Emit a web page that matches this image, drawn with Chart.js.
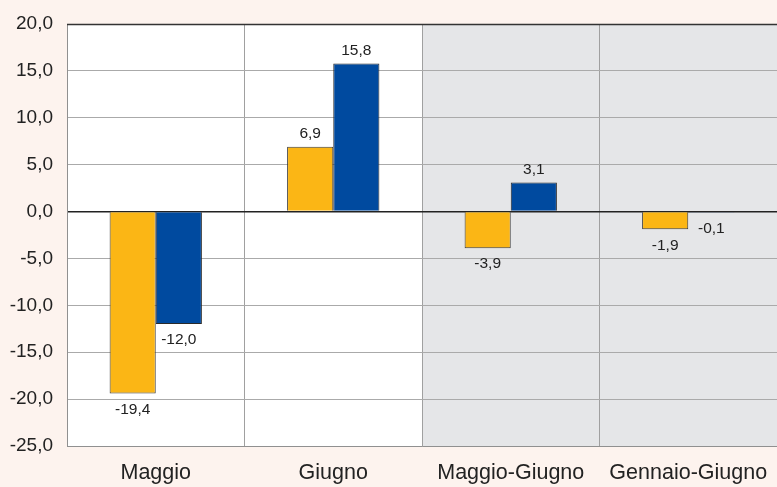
<!DOCTYPE html>
<html>
<head>
<meta charset="utf-8">
<script src="https://cdn.jsdelivr.net/npm/chart.js@4/dist/chart.umd.min.js"></script>
<style>
  html, body { margin: 0; padding: 0; background: #fdf3ee; }
  #wrap { width: 777px; height: 487px; position: relative; }
</style>
</head>
<body>
<div id="wrap"><canvas id="chart"></canvas></div>
<script>
const categories = ['Maggio', 'Giugno', 'Maggio-Giugno', 'Gennaio-Giugno'];
const seriesA = [-19.4, 6.9, -3.9, -1.9];
const seriesB = [-12.0, 15.8, 3.1, -0.1];
const yMin = -25, yMax = 20, yStep = 5;

const FONT = '"Liberation Sans", Arial, sans-serif';
const fmt = v => v.toFixed(1).replace('.', ',');

// sfondo: rosa fuori, bianco nell'area, grigio per le ultime due categorie
const bgPlugin = {
    id: 'bg',
    beforeDraw(chart) {
        const { ctx, chartArea: a, scales: { x } } = chart;
        ctx.save();
        ctx.fillStyle = '#fdf3ee';
        ctx.fillRect(0, 0, chart.width, chart.height);
        ctx.fillStyle = '#ffffff';
        ctx.fillRect(a.left, a.top, a.right - a.left, a.bottom - a.top);
        const half = (x.getPixelForValue(1) - x.getPixelForValue(0)) / 2;
        const split = x.getPixelForValue(2) - half;
        ctx.fillStyle = '#e5e6e8';
        ctx.fillRect(split, a.top, a.right - split, a.bottom - a.top);
        ctx.restore();
    },
    afterDraw(chart) {
        const { ctx, chartArea: a } = chart;
        ctx.save();
        ctx.strokeStyle = '#333';
        ctx.lineWidth = 1.5;
        ctx.beginPath();
        ctx.moveTo(a.left, a.top + 0.5);
        ctx.lineTo(a.right, a.top + 0.5);
        ctx.stroke();
        ctx.restore();
    }
};

const labelPlugin = {
    id: 'vals',
    afterDatasetsDraw(chart) {
        const { ctx } = chart;
        ctx.save();
        ctx.font = '15.5px ' + FONT;
        ctx.fillStyle = '#222';
        ctx.textAlign = 'center';
        ctx.textBaseline = 'middle';
        chart.data.datasets.forEach((ds, i) => {
            chart.getDatasetMeta(i).data.forEach((bar, j) => {
                const v = ds.data[j];
                const y = v >= 0 ? bar.y - 13 : bar.y + 16;
                ctx.fillText(fmt(v), bar.x, y);
            });
        });
        ctx.restore();
    }
};

new Chart(document.getElementById('chart'), {
    type: 'bar',
    data: {
        labels: categories,
        datasets: [
            { data: seriesA, backgroundColor: '#fbb615', borderColor: '#3a3a3a', borderWidth: 1 },
            { data: seriesB, backgroundColor: '#004a9f', borderColor: '#2a2a2a', borderWidth: 1 }
        ]
    },
    options: {
        responsive: true,
        maintainAspectRatio: false,
        animation: false,
        categoryPercentage: 0.52,
        barPercentage: 1,
        layout: { padding: { top: 24, right: 0, left: 0, bottom: 0 } },
        plugins: { legend: { display: false }, tooltip: { enabled: false } },
        scales: {
            x: {
                afterFit: s => { s.height = 41; s.paddingLeft = 0; s.paddingRight = 0; },
                grid: { color: '#a0a0a0', drawTicks: false, offset: true },
                border: { color: '#909090' },
                ticks: {
                    color: '#222',
                    padding: 14,
                    maxRotation: 0,
                    font: { family: FONT, size: 21.5 }
                }
            },
            y: {
                min: yMin,
                max: yMax,
                afterFit: s => { s.width = 67; s.paddingTop = 0; s.paddingBottom = 0; },
                grid: {
                    drawTicks: false,
                    color: c => c.tick && c.tick.value === 0 ? '#222' : '#aaaaaa',
                    lineWidth: c => c.tick && c.tick.value === 0 ? 1.5 : 1
                },
                border: { color: '#909090' },
                ticks: {
                    stepSize: yStep,
                    color: '#222',
                    padding: 14,
                    font: { family: FONT, size: 19 },
                    callback: v => fmt(v)
                }
            }
        }
    },
    plugins: [bgPlugin, labelPlugin]
});
</script>
</body>
</html>
